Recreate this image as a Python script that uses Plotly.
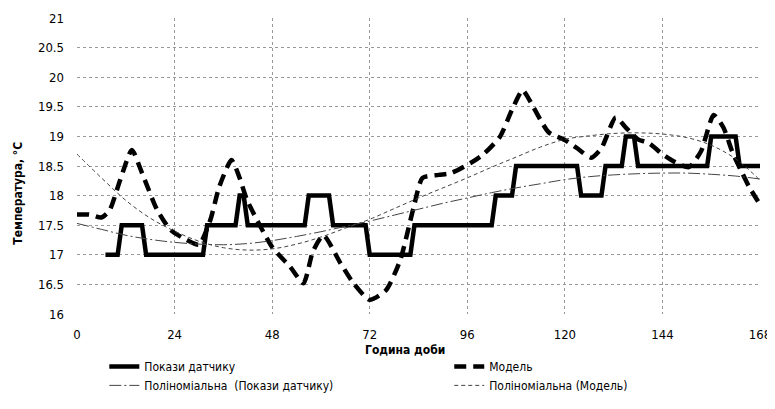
import plotly.graph_objects as go

# Sensor readings (step values, hour -> °C)
sensor_h = [7, 10, 11, 16, 17, 31, 32, 39, 40, 41, 42, 56, 57, 62, 63, 71, 72, 82, 83,
            102, 103, 107, 108, 123, 124, 129, 130, 134, 135, 137, 138, 155, 156, 162, 163, 168]
sensor_v = [17, 17, 17.5, 17.5, 17, 17, 17.5, 17.5, 18, 18, 17.5, 17.5, 18, 18, 17.5, 17.5, 17, 17, 17.5,
            17.5, 18, 18, 18.5, 18.5, 18, 18, 18.5, 18.5, 19, 19, 18.5, 18.5, 19, 19, 18.5, 18.5]

# Model values
model_h = [0, 3, 6, 8, 10.6, 13.5, 16, 19.7, 23, 27, 30, 32.8, 35, 38, 40, 41.8, 48, 52.4, 55.7,
           58, 60.6, 64.8, 68, 72, 76, 79.5, 82.8, 85, 89, 92, 96.8, 100, 104, 107, 109.6, 111,
           116, 120, 123, 126.5, 129, 132.5, 135, 138, 140.6, 144, 147, 150.5, 153.5, 156.6,
           159, 161.3, 163.5, 165.3, 168]
model_v = [17.68, 17.68, 17.63, 17.75, 18.26, 18.77, 18.38, 17.76, 17.42, 17.25, 17.17, 17.59, 18.15,
           18.6, 18.3, 17.93, 17.13, 16.8, 16.52, 17.05, 17.33, 16.86, 16.52, 16.24, 16.4, 16.91,
           17.8, 18.3, 18.35, 18.38, 18.55, 18.7, 18.99, 19.45, 19.78, 19.65, 19.07, 18.94, 18.8,
           18.64, 18.8, 19.32, 19.15, 18.95, 18.89, 18.7, 18.57, 18.48, 18.75, 19.36, 19.15,
           18.72, 18.4, 18.15, 17.85]

# Polynomial trendline of sensor readings
poly_s_h = [0, 6, 12, 18, 24, 30, 36, 42, 48, 54, 60, 66, 72, 78, 84, 90, 96, 102, 108, 114,
            120, 126, 132, 138, 144, 150, 156, 162, 168]
poly_s_v = [17.53, 17.43, 17.33, 17.26, 17.21, 17.18, 17.17, 17.19, 17.24, 17.31, 17.39, 17.48,
            17.57, 17.67, 17.77, 17.87, 17.96, 18.05, 18.13, 18.2, 18.27, 18.32, 18.35, 18.37,
            18.38, 18.38, 18.36, 18.33, 18.28]

# Polynomial trendline of model
poly_m_h = [0, 6, 12, 18, 24, 30, 36, 42, 48, 54, 60, 66, 72, 78, 84, 90, 96, 102, 108, 114,
            120, 126, 132, 138, 144, 150, 156, 162, 168]
poly_m_v = [18.7, 18.3, 17.92, 17.62, 17.4, 17.23, 17.12, 17.08, 17.1, 17.18, 17.3, 17.45,
            17.6, 17.78, 17.96, 18.13, 18.3, 18.48, 18.65, 18.82, 18.95, 19.01, 19.05, 19.06,
            19.04, 18.98, 18.85, 18.62, 18.26]

x_ticks = [0, 24, 48, 72, 96, 120, 144, 168]
y_ticks = [16, 16.5, 17, 17.5, 18, 18.5, 19, 19.5, 20, 20.5, 21]

FONT = "DejaVu Sans Condensed, Liberation Sans Narrow, sans-serif"

fig = go.Figure()
fig.add_trace(go.Scatter(x=sensor_h, y=sensor_v, mode="lines", name="Покази датчику",
                         legend="legend",
                         line=dict(color="black", width=4.5)))
fig.add_trace(go.Scatter(x=model_h, y=model_v, mode="lines", name="Модель",
                         legend="legend2",
                         line=dict(color="black", width=4.5, dash="12px,7px", shape="spline",
                                   smoothing=0.6)))
fig.add_trace(go.Scatter(x=poly_s_h, y=poly_s_v, mode="lines",
                         name="Поліноміальна  (Покази датчику)", legend="legend",
                         line=dict(color="#444", width=1, dash="12px,3px,2px,3px", shape="spline")))
fig.add_trace(go.Scatter(x=poly_m_h, y=poly_m_v, mode="lines",
                         name="Поліноміальна (Модель)", legend="legend2",
                         line=dict(color="#444", width=1, dash="4px,3px", shape="spline")))

leg_common = dict(orientation="v", y=-0.128, xanchor="left", yanchor="top",
                  font=dict(size=12), traceorder="normal", bgcolor="rgba(0,0,0,0)",
                  tracegroupgap=0)

# page body has an 8px default margin, so the figure is 8px smaller and margins offset
fig.update_layout(
    width=767, height=401,
    margin=dict(l=69, r=15, t=10, b=95, autoexpand=False),
    paper_bgcolor="white", plot_bgcolor="white",
    font=dict(family=FONT, color="black", size=13),
    showlegend=True,
    legend=dict(x=0.04, **leg_common),
    legend2=dict(x=0.545, **leg_common),
    annotations=[
        dict(text="<b>Година доби</b>", x=0.48, y=-0.122, xref="paper", yref="paper",
             showarrow=False, font=dict(size=12), xanchor="center", yanchor="middle"),
        dict(text="<b>Температура, °С</b>", x=-0.0864, y=0.41, xref="paper", yref="paper",
             showarrow=False, font=dict(size=12), textangle=-90, xanchor="center", yanchor="middle"),
    ],
)
fig.update_xaxes(range=[0, 168], tickvals=x_ticks, ticktext=[str(t) for t in x_ticks],
                 showgrid=True, gridcolor="#999", griddash="dot", gridwidth=1,
                 zeroline=False, showline=False, ticks="", ticklabelstandoff=11,
                 tickfont=dict(size=13), automargin=False)
fig.update_yaxes(range=[16, 21], tickvals=y_ticks, ticktext=[f"{t:g}" for t in y_ticks],
                 showgrid=True, gridcolor="#999", griddash="dot", gridwidth=1,
                 zeroline=False, showline=False, ticks="", ticklabelstandoff=12,
                 tickfont=dict(size=13), automargin=False)

fig.write_html("out.html")
